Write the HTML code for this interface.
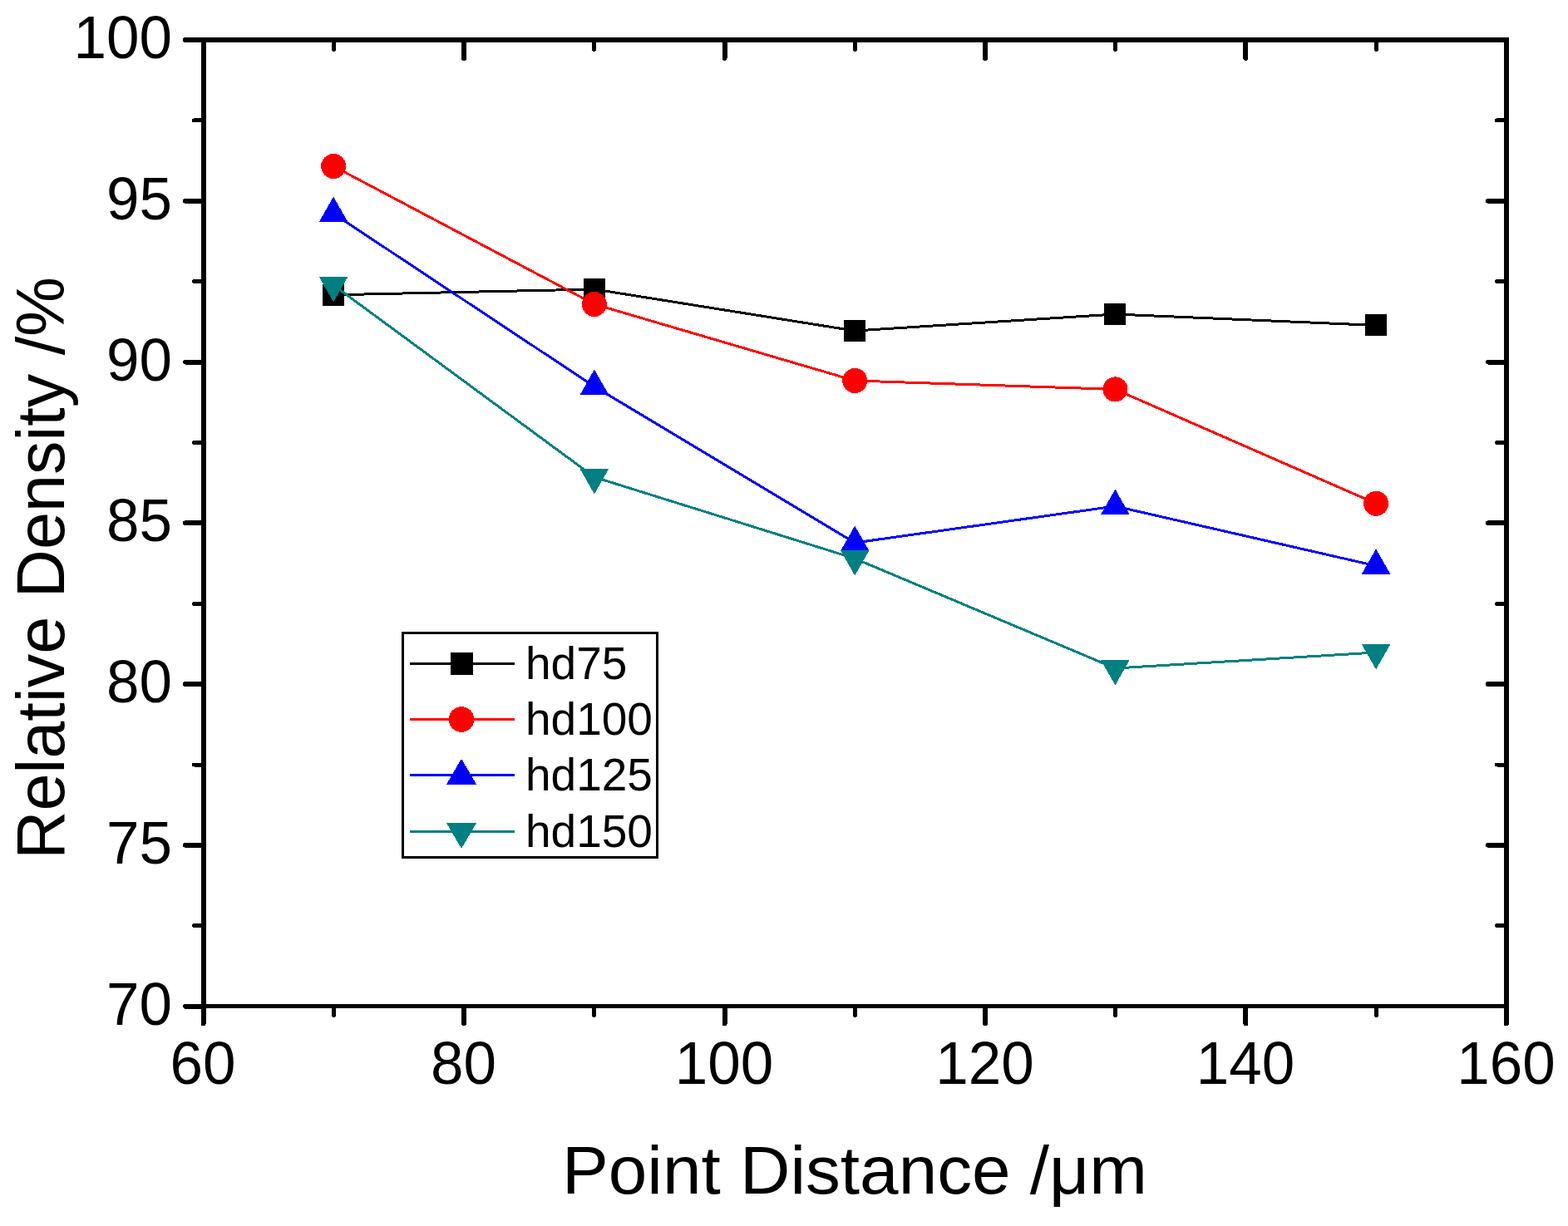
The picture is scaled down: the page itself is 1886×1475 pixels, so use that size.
<!DOCTYPE html><html><head><meta charset="utf-8"><title>Relative Density vs Point Distance</title>
<style>html,body{margin:0;padding:0;background:#fff;}svg{display:block;}text{font-family:"Liberation Sans",Arial,sans-serif;fill:#000;}</style></head><body>
<svg width="1886" height="1475" viewBox="0 0 1886 1475" shape-rendering="crispEdges">
<rect width="1886" height="1475" fill="#fff"/>
<polyline points="401.1,354.8 714.9,348.0 1028.2,398.0 1341.4,378.0 1655.1,391.4" fill="none" stroke="#000" stroke-width="3" stroke-linejoin="round"/>
<rect x="388.1" y="341.8" width="26" height="26" fill="#000"/>
<rect x="701.9" y="335.0" width="26" height="26" fill="#000"/>
<rect x="1015.2" y="385.0" width="26" height="26" fill="#000"/>
<rect x="1328.4" y="365.0" width="26" height="26" fill="#000"/>
<rect x="1642.1" y="378.4" width="26" height="26" fill="#000"/>
<polyline points="401.1,200.0 714.9,366.0 1028.2,458.0 1341.4,468.4 1655.1,605.8" fill="none" stroke="#f00" stroke-width="3" stroke-linejoin="round"/>
<circle cx="401.1" cy="200.0" r="15" fill="#f00"/>
<circle cx="714.9" cy="366.0" r="15" fill="#f00"/>
<circle cx="1028.2" cy="458.0" r="15" fill="#f00"/>
<circle cx="1341.4" cy="468.4" r="15" fill="#f00"/>
<circle cx="1655.1" cy="605.8" r="15" fill="#f00"/>
<polyline points="401.1,257.0 714.9,465.0 1028.2,653.0 1341.4,609.0 1655.1,680.8" fill="none" stroke="#00f" stroke-width="3" stroke-linejoin="round"/>
<polygon points="401.1,236.5 418.6,267.3 383.6,267.3" fill="#00f"/>
<polygon points="714.9,444.5 732.4,475.3 697.4,475.3" fill="#00f"/>
<polygon points="1028.2,632.5 1045.7,663.3 1010.7,663.3" fill="#00f"/>
<polygon points="1341.4,588.5 1358.9,619.3 1323.9,619.3" fill="#00f"/>
<polygon points="1655.1,660.3 1672.6,691.1 1637.6,691.1" fill="#00f"/>
<polyline points="401.1,343.0 714.9,574.0 1028.2,672.0 1341.4,804.0 1655.1,785.0" fill="none" stroke="#008080" stroke-width="3" stroke-linejoin="round"/>
<polygon points="383.6,332.7 418.6,332.7 401.1,363.5" fill="#008080"/>
<polygon points="697.4,563.7 732.4,563.7 714.9,594.5" fill="#008080"/>
<polygon points="1010.7,661.7 1045.7,661.7 1028.2,692.5" fill="#008080"/>
<polygon points="1323.9,793.7 1358.9,793.7 1341.4,824.5" fill="#008080"/>
<polygon points="1637.6,774.7 1672.6,774.7 1655.1,805.5" fill="#008080"/>
<g fill="#000">
<rect x="242" y="45" width="1573" height="6"/>
<rect x="242" y="1208" width="1573" height="5"/>
<rect x="242" y="45" width="6" height="1168"/>
<rect x="1809" y="45" width="6" height="1168"/>
</g>
<g stroke="#000" stroke-linecap="round"><line x1="223" y1="48.0" x2="245" y2="48.0" stroke-width="6"/><line x1="1790" y1="48.0" x2="1812" y2="48.0" stroke-width="6"/><line x1="233.5" y1="144.9" x2="245" y2="144.9" stroke-width="5"/><line x1="1800.5" y1="144.9" x2="1812" y2="144.9" stroke-width="5"/><line x1="223" y1="241.8" x2="245" y2="241.8" stroke-width="6"/><line x1="1790" y1="241.8" x2="1812" y2="241.8" stroke-width="6"/><line x1="233.5" y1="338.7" x2="245" y2="338.7" stroke-width="5"/><line x1="1800.5" y1="338.7" x2="1812" y2="338.7" stroke-width="5"/><line x1="223" y1="435.5" x2="245" y2="435.5" stroke-width="6"/><line x1="1790" y1="435.5" x2="1812" y2="435.5" stroke-width="6"/><line x1="233.5" y1="532.4" x2="245" y2="532.4" stroke-width="5"/><line x1="1800.5" y1="532.4" x2="1812" y2="532.4" stroke-width="5"/><line x1="223" y1="629.3" x2="245" y2="629.3" stroke-width="6"/><line x1="1790" y1="629.3" x2="1812" y2="629.3" stroke-width="6"/><line x1="233.5" y1="726.2" x2="245" y2="726.2" stroke-width="5"/><line x1="1800.5" y1="726.2" x2="1812" y2="726.2" stroke-width="5"/><line x1="223" y1="823.1" x2="245" y2="823.1" stroke-width="6"/><line x1="1790" y1="823.1" x2="1812" y2="823.1" stroke-width="6"/><line x1="233.5" y1="920.0" x2="245" y2="920.0" stroke-width="5"/><line x1="1800.5" y1="920.0" x2="1812" y2="920.0" stroke-width="5"/><line x1="223" y1="1016.8" x2="245" y2="1016.8" stroke-width="6"/><line x1="1790" y1="1016.8" x2="1812" y2="1016.8" stroke-width="6"/><line x1="233.5" y1="1113.7" x2="245" y2="1113.7" stroke-width="5"/><line x1="1800.5" y1="1113.7" x2="1812" y2="1113.7" stroke-width="5"/><line x1="223" y1="1210.6" x2="245" y2="1210.6" stroke-width="6"/><line x1="244.6" y1="1211" x2="244.6" y2="1231.5" stroke-width="6"/><line x1="244.6" y1="48" x2="244.6" y2="70" stroke-width="6"/><line x1="401.3" y1="1211" x2="401.3" y2="1221.5" stroke-width="5"/><line x1="401.3" y1="48" x2="401.3" y2="59.5" stroke-width="5"/><line x1="558.1" y1="1211" x2="558.1" y2="1231.5" stroke-width="6"/><line x1="558.1" y1="48" x2="558.1" y2="70" stroke-width="6"/><line x1="714.8" y1="1211" x2="714.8" y2="1221.5" stroke-width="5"/><line x1="714.8" y1="48" x2="714.8" y2="59.5" stroke-width="5"/><line x1="871.5" y1="1211" x2="871.5" y2="1231.5" stroke-width="6"/><line x1="871.5" y1="48" x2="871.5" y2="70" stroke-width="6"/><line x1="1028.2" y1="1211" x2="1028.2" y2="1221.5" stroke-width="5"/><line x1="1028.2" y1="48" x2="1028.2" y2="59.5" stroke-width="5"/><line x1="1185.0" y1="1211" x2="1185.0" y2="1231.5" stroke-width="6"/><line x1="1185.0" y1="48" x2="1185.0" y2="70" stroke-width="6"/><line x1="1341.7" y1="1211" x2="1341.7" y2="1221.5" stroke-width="5"/><line x1="1341.7" y1="48" x2="1341.7" y2="59.5" stroke-width="5"/><line x1="1498.4" y1="1211" x2="1498.4" y2="1231.5" stroke-width="6"/><line x1="1498.4" y1="48" x2="1498.4" y2="70" stroke-width="6"/><line x1="1655.2" y1="1211" x2="1655.2" y2="1221.5" stroke-width="5"/><line x1="1655.2" y1="48" x2="1655.2" y2="59.5" stroke-width="5"/><line x1="1811.9" y1="1211" x2="1811.9" y2="1231.5" stroke-width="6"/><line x1="1811.9" y1="48" x2="1811.9" y2="70" stroke-width="6"/></g>
<text transform="translate(207,70.0) scale(1,1.02)" font-size="71" text-anchor="end">100</text>
<text transform="translate(207,263.8) scale(1,1.02)" font-size="71" text-anchor="end">95</text>
<text transform="translate(207,457.5) scale(1,1.02)" font-size="71" text-anchor="end">90</text>
<text transform="translate(207,651.3) scale(1,1.02)" font-size="71" text-anchor="end">85</text>
<text transform="translate(207,845.1) scale(1,1.02)" font-size="71" text-anchor="end">80</text>
<text transform="translate(207,1038.8) scale(1,1.02)" font-size="71" text-anchor="end">75</text>
<text transform="translate(207,1232.6) scale(1,1.02)" font-size="71" text-anchor="end">70</text>
<text transform="translate(244.1,1304) scale(1,1.02)" font-size="71" text-anchor="middle">60</text>
<text transform="translate(557.6,1304) scale(1,1.02)" font-size="71" text-anchor="middle">80</text>
<text transform="translate(871.0,1304) scale(1,1.02)" font-size="71" text-anchor="middle">100</text>
<text transform="translate(1184.5,1304) scale(1,1.02)" font-size="71" text-anchor="middle">120</text>
<text transform="translate(1497.9,1304) scale(1,1.02)" font-size="71" text-anchor="middle">140</text>
<text transform="translate(1811.4,1304) scale(1,1.02)" font-size="71" text-anchor="middle">160</text>
<text x="676" y="1436" font-size="81.5" textLength="704" lengthAdjust="spacingAndGlyphs">Point Distance /μm</text>
<text transform="translate(77,1034) rotate(-90)" x="0" y="0" font-size="81.5" textLength="701" lengthAdjust="spacingAndGlyphs">Relative Density /%</text>
<rect x="484.5" y="761.5" width="306" height="270" fill="none" stroke="#000" stroke-width="3"/>
<line x1="493" y1="798.4" x2="618.8" y2="798.4" stroke="#000" stroke-width="3"/>
<rect x="542.0" y="784.9" width="27" height="27" fill="#000"/>
<text x="632" y="816.8" font-size="55">hd75</text>
<line x1="493" y1="865.5" x2="618.8" y2="865.5" stroke="#f00" stroke-width="3"/>
<circle cx="555.0" cy="865.5" r="15.3" fill="#f00"/>
<text x="632" y="883.9" font-size="55">hd100</text>
<line x1="493" y1="932.5" x2="618.8" y2="932.5" stroke="#00f" stroke-width="3"/>
<polygon points="555.0,912.8 573.0,943.7 537.0,943.7" fill="#00f"/>
<text x="632" y="950.9" font-size="55">hd125</text>
<line x1="493" y1="1000.5" x2="618.8" y2="1000.5" stroke="#008080" stroke-width="3"/>
<polygon points="537.0,990.0 573.0,990.0 555.0,1021.0" fill="#008080"/>
<text x="632" y="1018.9" font-size="55">hd150</text>
</svg></body></html>
